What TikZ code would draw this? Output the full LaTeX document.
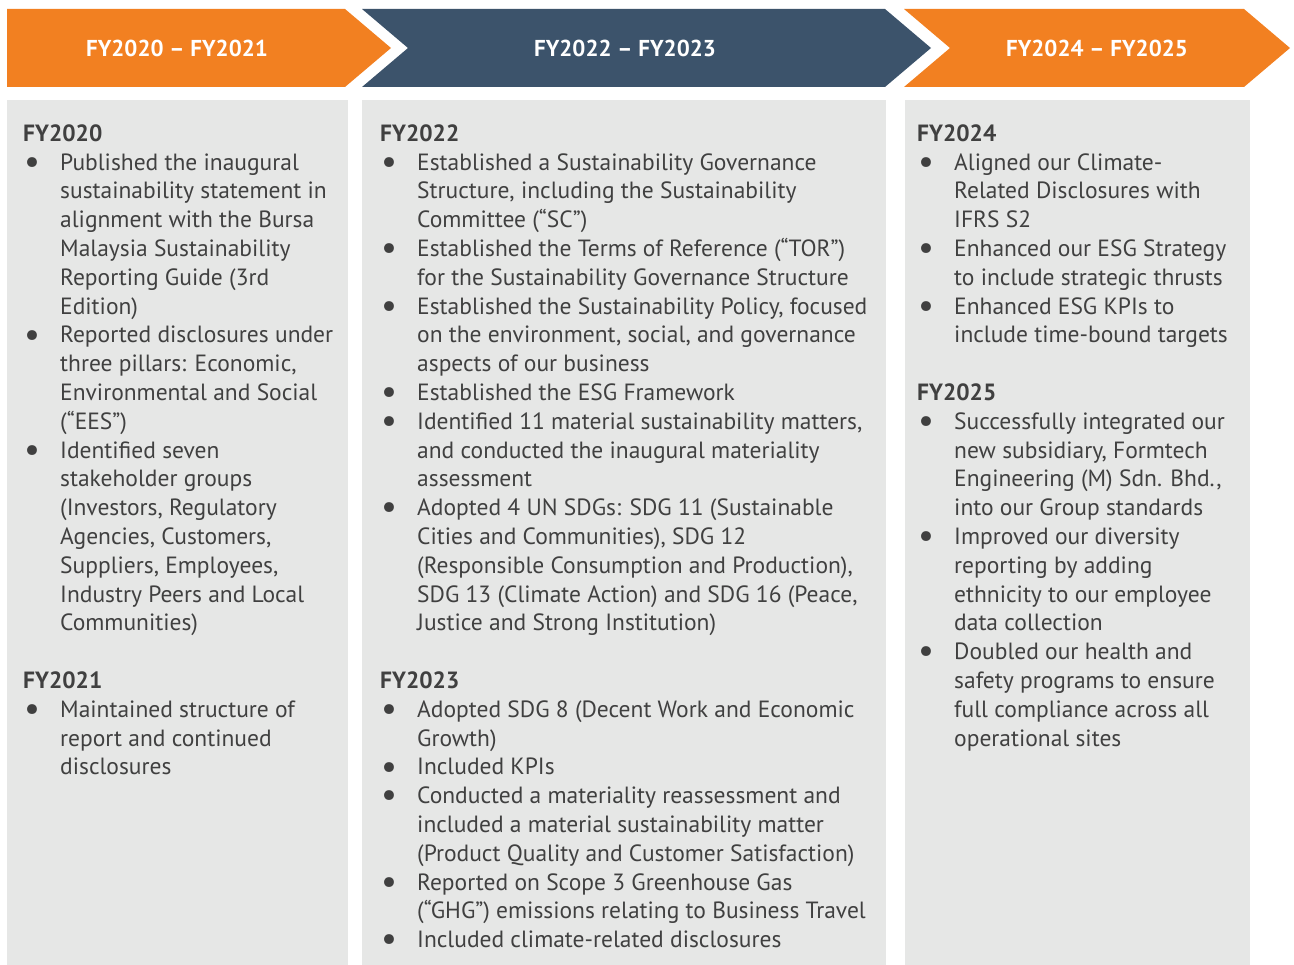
\documentclass[tikz,border=0pt]{standalone}
\usepackage{fontspec}
\setmainfont{PT Sans}
\usepackage{graphicx}
\usepackage{tikz}
\usetikzlibrary{positioning, calc}

\definecolor{fyorange}{HTML}{F28021}
\definecolor{fyblue}{HTML}{3C536B}
\definecolor{panelgray}{HTML}{E6E7E6}
\definecolor{txtgray}{HTML}{404040}

\newcommand{\bul}{\makebox[37pt][l]{\hspace{1pt}\smash{\raisebox{-3.2pt}{\scalebox{1.5}{\textbullet}}}}}
\newcommand{\ind}{\hspace*{37pt}}
\newcommand{\fyhead}[1]{\rule{0pt}{20pt}\textbf{#1}}

\tikzset{
    bandtext/.style={text=white, inner sep=0pt, font=\fontsize{23}{26}\selectfont\bfseries},
    panel/.style={fill=panelgray, draw=none},
    coltext/.style={anchor=north west, align=left, inner sep=0pt, text=txtgray,
        font=\fontsize{23.5}{28.8}\selectfont}
}

\begin{document}
\begin{tikzpicture}[x=1pt, y=-1pt]
                \useasboundingbox (0,0) rectangle (1294,965);

                \fill[fyorange] (7,9) -- (345,9) -- (391,48) -- (345,87) -- (7,87) -- cycle;
                \fill[fyblue] (362,9) -- (885,9) -- (931,48) -- (885,87) -- (362,87) -- (408,48) -- cycle;
                \fill[fyorange] (904,9) -- (1244,9) -- (1290,48) -- (1244,87) -- (904,87) -- (950,48) -- cycle;
                \node[bandtext] (band1) at (177,48) {FY2020 \textendash\ FY2021};
                \node[bandtext] (band2) at (625,48) {FY2022 \textendash\ FY2023};
                \node[bandtext] (band3) at (1097,48) {FY2024 \textendash\ FY2025};

                \fill[panel] (7,100) rectangle (348,965);
                \fill[panel] (362,100) rectangle (886,965);
                \fill[panel] (905,100) rectangle (1250,965);

                \node[coltext] (col1) at (23,121) {\fyhead{FY2020}\\
                    \bul Published the inaugural\\
                    \ind sustainability statement in\\
                    \ind alignment with the Bursa\\
                    \ind Malaysia Sustainability\\
                    \ind Reporting Guide (3rd\\
                    \ind Edition)\\
                    \bul Reported disclosures under\\
                    \ind three pillars: Economic,\\
                    \ind Environmental and Social\\
                    \ind (“EES”)\\
                    \bul Identified seven\\
                    \ind stakeholder groups\\
                    \ind (Investors, Regulatory\\
                    \ind Agencies, Customers,\\
                    \ind Suppliers, Employees,\\
                    \ind Industry Peers and Local\\
                    \ind Communities)\\
                    \mbox{}\\
                    \textbf{FY2021}\\
                    \bul Maintained structure of\\
                    \ind report and continued\\
                    \ind disclosures};

                \node[coltext] (col2) at (380,121) {\fyhead{FY2022}\\
                    \bul Established a Sustainability Governance\\
                    \ind Structure, including the Sustainability\\
                    \ind Committee (“SC”)\\
                    \bul Established the Terms of Reference (“TOR”)\\
                    \ind for the Sustainability Governance Structure\\
                    \bul Established the Sustainability Policy, focused\\
                    \ind on the environment, social, and governance\\
                    \ind aspects of our business\\
                    \bul Established the ESG Framework\\
                    \bul Identified 11 material sustainability matters,\\
                    \ind and conducted the inaugural materiality\\
                    \ind assessment\\
                    \bul Adopted 4 UN SDGs: SDG 11 (Sustainable\\
                    \ind Cities and Communities), SDG 12\\
                    \ind (Responsible Consumption and Production),\\
                    \ind SDG 13 (Climate Action) and SDG 16 (Peace,\\
                    \ind Justice and Strong Institution)\\
                    \mbox{}\\
                    \textbf{FY2023}\\
                    \bul Adopted SDG 8 (Decent Work and Economic\\
                    \ind Growth)\\
                    \bul Included KPIs\\
                    \bul Conducted a materiality reassessment and\\
                    \ind included a material sustainability matter\\
                    \ind (Product Quality and Customer Satisfaction)\\
                    \bul Reported on Scope 3 Greenhouse Gas\\
                    \ind (“GHG”) emissions relating to Business Travel\\
                    \bul Included climate-related disclosures};

                \node[coltext] (col3) at (917,121) {\fyhead{FY2024}\\
                    \bul Aligned our Climate-\\
                    \ind Related Disclosures with\\
                    \ind IFRS S2\\
                    \bul Enhanced our ESG Strategy\\
                    \ind to include strategic thrusts\\
                    \bul Enhanced ESG KPIs to\\
                    \ind include time-bound targets\\
                    \mbox{}\\
                    \textbf{FY2025}\\
                    \bul Successfully integrated our\\
                    \ind new subsidiary, Formtech\\
                    \ind Engineering (M) Sdn. Bhd.,\\
                    \ind into our Group standards\\
                    \bul Improved our diversity\\
                    \ind reporting by adding\\
                    \ind ethnicity to our employee\\
                    \ind data collection\\
                    \bul Doubled our health and\\
                    \ind safety programs to ensure\\
                    \ind full compliance across all\\
                    \ind operational sites};
            \end{tikzpicture}
\end{document}
